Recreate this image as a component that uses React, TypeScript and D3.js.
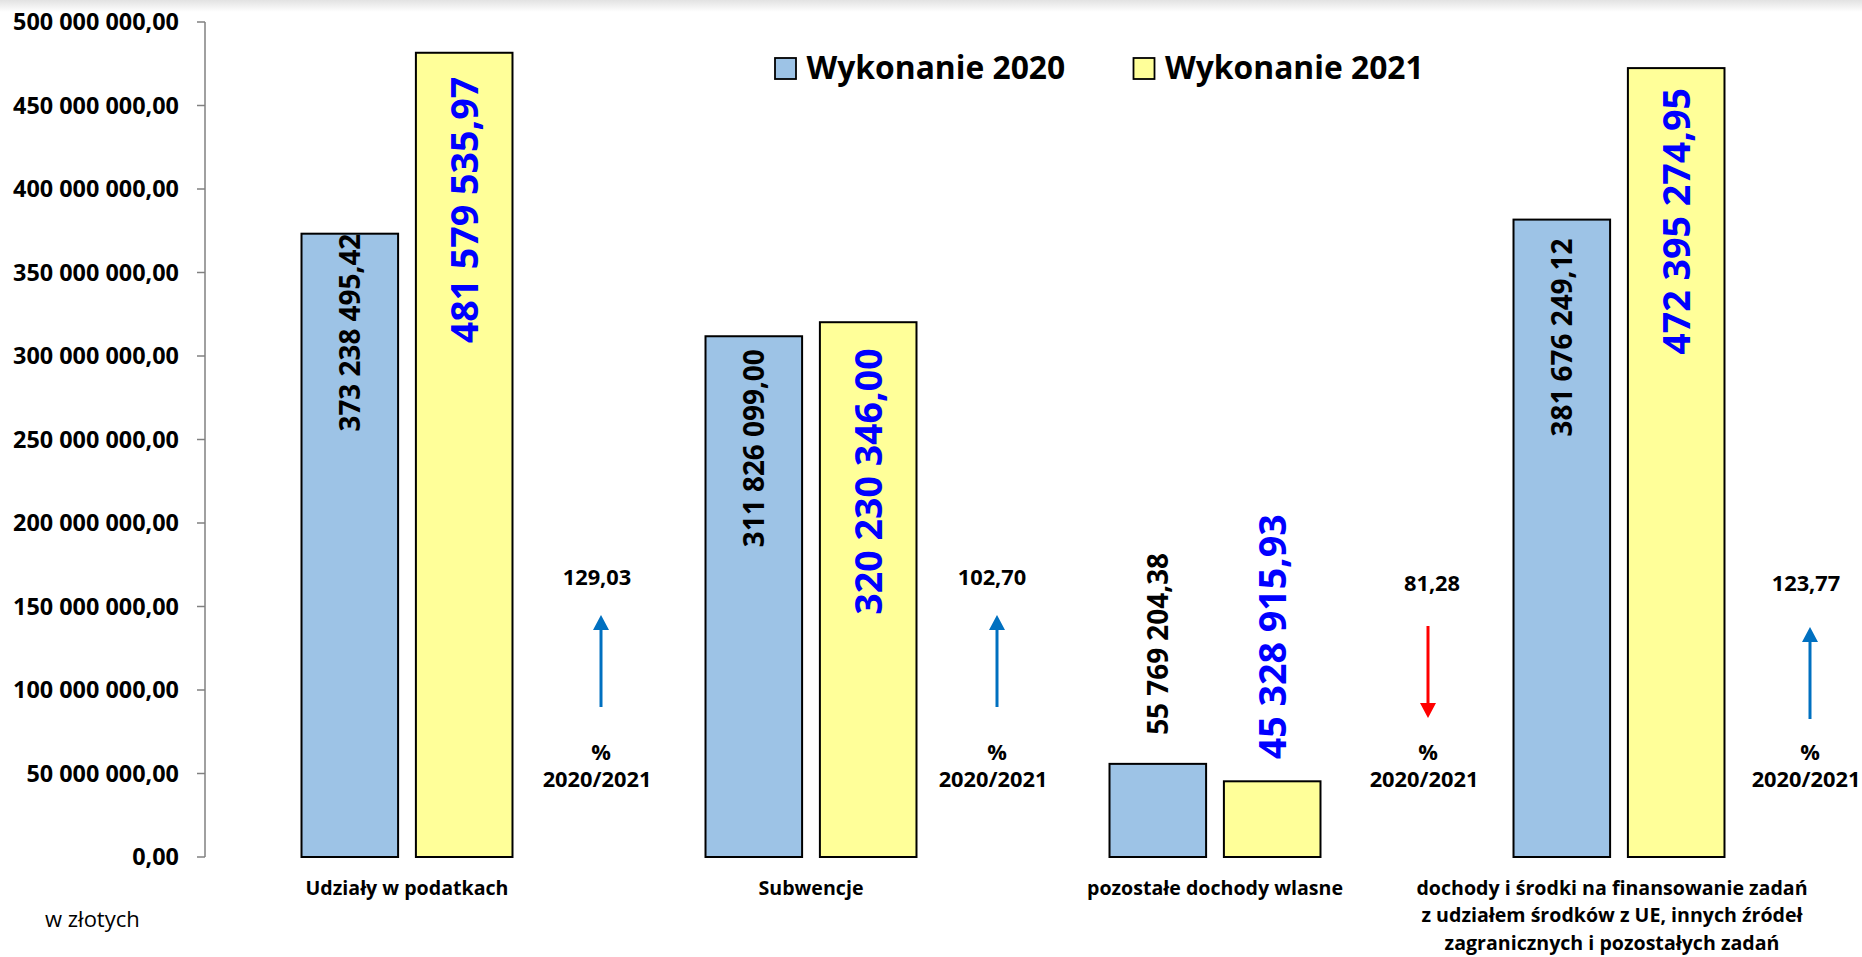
import React, { useEffect } from 'react';
import * as d3 from 'd3';

// ---------- data ----------
const categories = [
  'Udziały w podatkach',
  'Subwencje',
  'pozostałe dochody wlasne',
  'dochody i środki na finansowanie zadań z udziałem środków z UE, innych źródeł zagranicznych i pozostałych zadań',
];
const categoryLines = [
  ['Udziały w podatkach'],
  ['Subwencje'],
  ['pozostałe dochody wlasne'],
  ['dochody i środki na finansowanie zadań', 'z udziałem środków z UE, innych źródeł', 'zagranicznych i pozostałych zadań'],
];
const seriesKeys = ['2020', '2021'];
const seriesNames = ['Wykonanie 2020', 'Wykonanie 2021'];
const values2020 = [373238495.42, 311826099.0, 55769204.38, 381676249.12];
const values2021 = [481579535.97, 320230346.0, 45328915.93, 472395274.95];
const percentChange = [129.03, 102.7, 81.28, 123.77];
const percentCaption = ['%', '2020/2021'];
const yTickValues = [0, 50e6, 100e6, 150e6, 200e6, 250e6, 300e6, 350e6, 400e6, 450e6, 500e6];
const unitNote = 'w złotych';

// ---------- layout / styles ----------
const W = 1862;
const H = 957;
const FONT = "'Open Sans', 'DejaVu Sans', sans-serif";
const fills = ['#9DC3E6', '#FFFF99'];
const labelColors = ['#000000', '#0000FF'];
const labelSizes = [27.9, 37.6];
const labelGaps = [
  [0, 13, 29, 19],
  [24, 26, 22, 20],
];
const annDx = [194, 186, 213, 191];
const annTextDx = [-4, -5, 4, -4];
const annValueY = [585, 585, 591, 591];
const arrowTop = [615, 615, 626, 627];
const arrowBottom = [707, 707, 718, 719];

const pl = d3.formatLocale({ decimal: ',', thousands: ' ', grouping: [3], currency: ['', ''] });
const fmtMoney = pl.format(',.2f');
const fmtPct = pl.format('.2f');

export default function App() {
  useEffect(() => {
    document.body.style.margin = '0';
  }, []);

  const y = d3.scaleLinear().domain([0, 500e6]).range([857, 22]);
  const x = d3.scaleBand<string>().domain(categories).range([205, 1821]).paddingInner(0).paddingOuter(0);
  const inner = d3
    .scaleBand<string>()
    .domain(seriesKeys)
    .range([0, x.bandwidth()])
    .paddingInner(0.1556)
    .paddingOuter(0.8437);
  const series = [values2020, values2021];
  const y0 = y(0);

  return (
    <svg width={W} height={H} style={{ position: 'absolute', left: 0, top: 0, background: '#fff' }} fontFamily={FONT}>
      <defs>
        <linearGradient id="topShade" x1="0" y1="0" x2="0" y2="1">
          <stop offset="0" stopColor="#e2e2e2" />
          <stop offset="1" stopColor="#ffffff" />
        </linearGradient>
      </defs>
      <rect x={0} y={0} width={W} height={H} fill="#fff" />
      <rect x={0} y={0} width={W} height={12} fill="url(#topShade)" />

      {/* y axis */}
      <line x1={205} x2={205} y1={y(500e6)} y2={y0} stroke="#808080" strokeWidth={1.5} />
      {yTickValues.map((t) => (
        <g key={t}>
          <line x1={197} x2={205} y1={y(t)} y2={y(t)} stroke="#808080" strokeWidth={1.5} />
          <text
            x={179}
            y={y(t)}
            dy="0.357em"
            textAnchor="end"
            fontSize={23.4}
            fontWeight="bold"
            fill="#000"
          >
            {fmtMoney(t)}
          </text>
        </g>
      ))}

      {/* bars */}
      {categories.map((c, ci) => (
        <g key={c}>
          {series.map((vals, si) => {
            const bx = (x(c) as number) + (inner(seriesKeys[si]) as number);
            const bw = inner.bandwidth();
            const by = y(vals[ci]);
            return (
              <rect
                key={si}
                x={bx}
                y={by}
                width={bw}
                height={y0 - by}
                fill={fills[si]}
                stroke="#000"
                strokeWidth={2}
              />
            );
          })}
        </g>
      ))}

      {/* bar value labels */}
      {categories.map((c, ci) => (
        <g key={'lbl' + c}>
          {series.map((vals, si) => {
            const bx = (x(c) as number) + (inner(seriesKeys[si]) as number);
            const cx = bx + inner.bandwidth() / 2;
            const by = y(vals[ci]);
            const txt = fmtMoney(vals[ci]);
            const fs = labelSizes[si];
            const estLen = txt.length * 0.5 * fs;
            const gap = labelGaps[si][ci];
            const inside = y0 - by > estLen + gap + 10;
            const ay = inside ? by + gap : by - gap;
            return (
              <text
                key={si}
                transform={`translate(${cx},${ay}) rotate(-90)`}
                dy="0.357em"
                textAnchor={inside ? 'end' : 'start'}
                fontSize={fs}
                fontWeight="bold"
                fill={labelColors[si]}
              >
                {txt}
              </text>
            );
          })}
        </g>
      ))}

      {/* percent annotations */}
      {categories.map((c, ci) => {
        const ax = (x(c) as number) + x.bandwidth() / 2 + annDx[ci];
        const up = percentChange[ci] >= 100;
        const col = up ? '#0070C0' : '#FF0000';
        const top = arrowTop[ci];
        const bot = arrowBottom[ci];
        const head = 15;
        const hw = 8;
        const linePath = up ? [top + head - 1, bot] : [top, bot - head + 1];
        const headPath = up
          ? `M${ax},${top} L${ax - hw},${top + head} L${ax + hw},${top + head} Z`
          : `M${ax},${bot} L${ax - hw},${bot - head} L${ax + hw},${bot - head} Z`;
        return (
          <g key={'ann' + c}>
            <text
              x={ax + annTextDx[ci]}
              y={annValueY[ci]}
              textAnchor="middle"
              fontSize={21.8}
              fontWeight="bold"
              fill="#000"
            >
              {fmtPct(percentChange[ci])}
            </text>
            <line x1={ax} x2={ax} y1={linePath[0]} y2={linePath[1]} stroke={col} strokeWidth={3} />
            <path d={headPath} fill={col} />
            <text x={ax} y={760} textAnchor="middle" fontSize={21.8} fontWeight="bold" fill="#000">
              {percentCaption[0]}
            </text>
            <text x={ax - 4} y={787} textAnchor="middle" fontSize={21.8} fontWeight="bold" fill="#000">
              {percentCaption[1]}
            </text>
          </g>
        );
      })}

      {/* category labels */}
      {categories.map((c, ci) => {
        const cx = (x(c) as number) + x.bandwidth() / 2 + (categoryLines[ci].length > 1 ? -7 : 0);
        return (
          <text key={'cat' + c} textAnchor="middle" fontSize={19.6} fontWeight="bold" fill="#000">
            {categoryLines[ci].map((ln, li) => (
              <tspan key={li} x={cx} y={895 + li * 27.3}>
                {ln}
              </tspan>
            ))}
          </text>
        );
      })}

      {/* unit note */}
      <text x={45} y={927} fontSize={22} fill="#000">
        {unitNote}
      </text>

      {/* legend */}
      {seriesNames.map((n, i) => {
        const lx = [775, 1133.5][i];
        return (
          <g key={n}>
            <rect x={lx} y={58} width={21} height={21} fill={fills[i]} stroke="#000" strokeWidth={1.8} />
            <text x={lx + 31.5} y={78.5} fontSize={31.8} fontWeight="bold" fill="#000">
              {n}
            </text>
          </g>
        );
      })}
    </svg>
  );
}
